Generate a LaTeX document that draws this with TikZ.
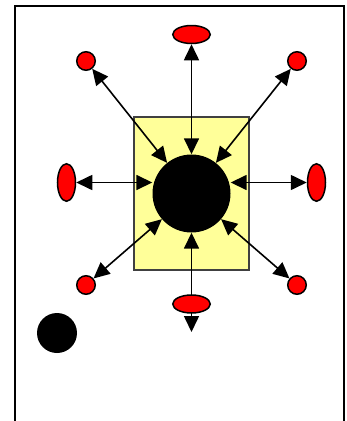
\documentclass[tikz,border=0pt]{standalone}
\usepackage{tikz}
\usetikzlibrary{positioning, arrows.meta, shapes.geometric, backgrounds}
\definecolor{hubyellow}{HTML}{FFFF99}
\definecolor{boxgray}{HTML}{404040}
\definecolor{spokered}{HTML}{FF0000}

\tikzset{
  spoke/.style={fill=spokered, draw=black, line width=1.5pt, inner sep=0pt},
  dot/.style={spoke, circle, minimum size=18.5pt},
  wide/.style={spoke, ellipse, minimum width=37.5pt, minimum height=18pt},
  tall/.style={spoke, ellipse, minimum width=18pt, minimum height=37.5pt},
  link/.style={>={Triangle[length=16pt, width=15pt]}, <->, line width=1.6pt}
}

\begin{document}
\begin{tikzpicture}[x=1pt, y=-1pt]
  \useasboundingbox (0,0) rectangle (346,421);
  \begin{scope}
    \clip (0,0) rectangle (346,421);
    \draw[line width=2pt] (14.5,6) rectangle (344,440);
  \end{scope}

  % centre and spokes
  \node[circle, fill=black, inner sep=0pt, minimum size=78pt] (hub) at (191.5,193.5) {};
  \node[wide] (n)  at (191.5,34.5) {};
  \node[dot]  (ne) at (297,61) {};
  \node[tall] (e)  at (316.5,182.5) {};
  \node[dot]  (se) at (297,285) {};
  \node[wide] (s)  at (191.5,304) {};
  \node[dot]  (sw) at (86,285) {};
  \node[tall] (w)  at (66.5,182.5) {};
  \node[dot]  (nw) at (86,61) {};
  \coordinate (send) at (191.5,332);

  \node[circle, fill=black, inner sep=0pt, minimum size=40pt] (stray) at (57,333) {};

  \begin{scope}[on background layer]
    \draw[fill=hubyellow, draw=boxgray, line width=1.5pt] (134,117) rectangle (249,270);
    \foreach \t in {n, ne, se, sw, nw}
      \draw[link] (hub) -- (\t);
    \draw[link] (w) -- (w -| hub.west);
    \draw[link] (e) -- (e -| hub.east);
    \draw[link] (hub) -- (send);
  \end{scope}
\end{tikzpicture}
\end{document}
